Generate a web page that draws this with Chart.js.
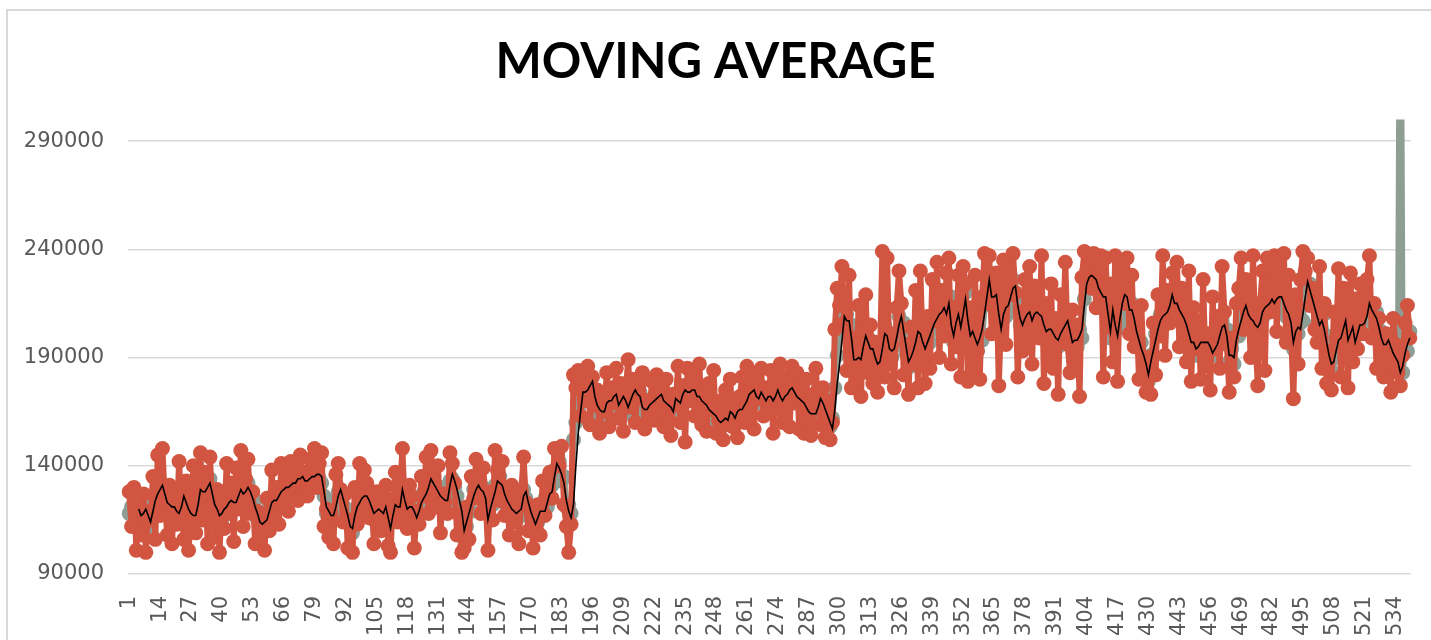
<!DOCTYPE html>
<html>
<head>
<meta charset="utf-8">
<script src="https://cdn.jsdelivr.net/npm/chart.js@4.4.0/dist/chart.umd.min.js"></script>
<style>
  html, body { margin: 0; padding: 0; background: #fff; overflow: hidden; }
  .frame { position: absolute; left: 6px; top: 9px; width: 1500px; height: 700px; border: 2px solid #d9d9d9; }
  .wrap { position: absolute; left: 0; top: 0; width: 1431px; height: 640px; }
</style>
</head>
<body>
<div class="frame"></div>
<div class="wrap"><canvas id="myChart"></canvas></div>
<script>
// values, in thousands
const orangeK = [
  128,112,130,101,121,108,127,100,119,115,
  135,106,145,117,148,124,108,131,104,126,
  113,142,120,106,133,101,118,140,109,124,
  146,115,137,104,144,121,107,129,100,123,
  111,141,118,132,105,139,120,147,112,134,
  143,118,128,104,119,106,115,101,125,110,
  138,117,130,113,141,122,136,119,142,128,
  139,124,145,131,137,126,143,133,148,130,
  141,146,112,120,107,118,104,136,141,129,
  114,127,102,115,100,130,113,141,119,138,
  132,116,124,104,128,118,110,127,131,103,
  100,124,137,114,128,148,120,111,131,126,
  102,119,113,135,126,144,118,147,133,121,
  140,109,127,123,118,146,141,132,108,117,
  100,102,121,106,135,125,143,130,118,139,
  126,101,128,115,147,138,124,142,117,129,
  108,131,114,126,104,128,144,123,110,119,
  102,115,122,108,133,117,128,137,125,148,
  147,140,149,122,112,100,113,182,176,184,
  163,179,170,186,159,181,168,175,155,172,
  165,183,158,176,169,185,162,178,156,174,
  189,167,180,160,177,171,183,157,170,164,
  179,161,182,166,175,158,180,169,154,173,
  168,186,160,177,151,185,170,182,163,176,
  187,159,173,156,178,166,184,155,161,170,
  152,175,164,180,158,168,153,172,181,160,
  186,165,178,157,183,171,185,163,176,168,
  184,155,179,166,187,160,174,181,158,186,
  169,183,157,175,155,180,162,154,173,185,
  167,159,176,153,170,152,160,203,222,214,
  232,206,184,228,176,199,180,214,172,203,
  219,183,205,178,197,174,190,239,181,236,
  187,201,176,213,230,215,182,196,173,204,
  187,221,176,230,194,178,209,185,226,207,
  234,190,221,200,229,236,187,213,195,228,
  181,232,224,179,213,184,228,193,180,218,
  238,215,237,201,226,229,177,208,235,196,
  231,219,238,220,181,211,193,226,198,232,
  187,223,212,199,237,178,215,190,224,185,
  208,173,219,201,234,196,183,212,188,205,
  172,227,239,230,236,222,238,213,229,237,
  181,236,204,224,188,237,179,226,233,215,
  236,201,228,195,211,180,214,186,174,190,
  173,206,182,219,200,237,191,221,206,229,
  212,234,195,222,203,188,230,179,213,194,
  207,180,226,186,201,175,218,194,209,185,
  232,211,196,174,199,181,215,222,236,203,
  226,218,190,237,200,177,215,230,184,236,
  211,224,237,202,233,221,238,197,228,203,
  171,219,187,226,239,230,236,214,222,203,
  197,232,185,215,178,193,175,211,199,231,
  181,222,206,176,229,188,217,194,224,201,
  213,226,237,199,215,185,208,193,181,201,
  188,174,208,196,183,177,191,206,214,199
];

const greyK = [
  118,121,116,119,122,114,120,123,115,112,
  121,126,124,132,128,125,120,124,118,123,
  116,121,124,128,120,118,115,119,121,126,
  131,125,130,128,134,124,120,117,119,115,
  122,119,126,121,125,120,129,127,131,125,
  132,126,122,124,115,116,110,117,113,122,
  120,127,122,129,126,131,128,133,129,135,
  130,136,132,137,131,135,132,138,133,137,
  134,132,126,118,122,114,119,124,128,126,
  122,118,114,115,109,120,118,126,122,128,
  124,121,124,115,121,118,122,116,124,113,
  114,119,125,118,124,126,121,123,118,124,
  117,114,122,120,128,124,133,131,135,128,
  126,130,122,127,121,133,134,130,126,121,
  116,113,112,121,119,129,126,134,127,130,
  122,118,123,122,131,130,135,128,125,121,
  124,118,121,115,122,117,129,125,121,117,
  114,118,114,121,117,125,121,130,131,138,
  139,142,133,135,121,122,118,152,160,166,
  172,171,177,173,180,176,170,171,163,168,
  162,171,167,173,169,175,165,172,169,173,
  164,172,170,177,171,174,164,169,163,170,
  166,172,168,175,170,174,166,171,164,168,
  173,167,172,170,177,171,176,172,178,169,
  175,167,172,165,169,162,167,160,164,158,
  163,159,164,162,167,160,168,164,169,166,
  172,168,176,172,175,169,176,170,173,168,
  175,169,174,172,177,170,175,171,178,173,
  176,170,174,168,172,165,168,162,166,161,
  169,168,172,164,167,158,162,176,191,205,
  212,203,210,200,205,186,192,186,193,190,
  203,194,198,190,196,184,191,197,205,197,
  198,190,197,196,209,205,206,192,191,186,
  196,190,205,198,200,191,200,197,206,203,
  212,206,214,209,215,207,218,197,209,206,
  213,201,220,204,203,198,203,193,202,198,
  214,215,229,214,221,216,214,200,214,209,
  217,212,226,219,217,205,209,204,213,207,
  211,206,214,207,212,202,205,200,206,199,
  202,195,204,199,208,204,205,194,201,195,
  203,199,217,221,230,224,230,222,229,217,
  222,214,214,199,215,202,204,205,218,216,
  221,209,215,205,205,195,197,190,190,179,
  191,190,201,200,210,206,213,208,217,216,
  218,212,215,207,211,202,204,194,200,191,
  198,194,200,194,200,192,195,191,199,197,
  207,202,203,188,194,187,201,200,210,208,
  217,207,211,204,208,201,209,208,216,211,
  218,214,218,212,220,215,221,209,215,203,
  194,205,201,206,207,221,222,224,214,216,
  206,208,202,210,200,194,184,191,190,201,
  196,206,204,201,198,207,194,204,202,208,
  203,212,212,215,207,211,201,202,193,199,
  195,198,189,193,187,420,183,195,193,202
];

const avgK = [
  null,null,null,null,120,117,118,120,117,114,
  119,124,127,129,131,127,123,122,121,121,
  119,118,121,126,123,120,118,117,117,122,
  129,128,128,130,132,127,122,120,117,118,
  120,121,123,124,123,123,126,129,127,128,
  130,128,125,121,118,114,113,114,115,119,
  123,124,124,126,128,129,130,130,131,132,
  132,134,134,135,133,133,134,135,135,136,
  136,135,128,121,119,117,117,121,126,129,
  125,121,117,112,111,117,121,123,125,126,
  126,124,121,118,119,120,119,118,121,116,
  111,117,122,121,121,129,124,120,121,121,
  119,116,119,123,125,127,130,134,132,130,
  128,126,125,124,124,131,136,133,129,124,
  119,110,114,118,122,126,129,131,129,128,
  125,115,120,124,128,133,132,131,127,124,
  122,120,119,118,119,120,126,128,123,119,
  116,113,116,119,119,119,123,127,128,135,
  141,139,136,132,124,119,116,122,140,155,
  165,174,174,175,177,179,172,168,166,165,
  165,169,170,170,172,173,168,170,172,170,
  167,170,173,175,173,172,167,166,166,168,
  169,170,171,172,173,170,169,168,167,165,
  171,170,169,173,175,174,174,175,175,172,
  172,170,169,168,166,165,164,163,161,160,
  161,162,161,165,164,162,165,166,166,168,
  170,173,174,175,172,171,174,172,170,172,
  172,170,172,175,172,170,172,173,175,176,
  174,172,171,170,169,167,165,164,164,164,
  167,171,169,166,163,160,157,166,178,187,
  198,209,207,207,199,189,189,190,189,195,
  200,197,194,194,190,187,188,194,201,200,
  194,193,194,199,205,209,202,195,188,190,
  193,197,202,201,197,194,197,200,203,206,
  208,210,211,213,210,215,205,200,206,210,
  204,210,217,207,200,202,199,196,199,203,
  210,218,226,218,218,219,210,203,210,213,
  214,218,222,223,214,208,205,208,210,211,
  207,210,211,210,209,205,202,203,203,201,
  199,198,201,203,205,207,202,197,198,198,
  200,203,214,224,227,228,227,226,222,220,
  218,218,210,202,212,205,200,208,215,219,
  218,212,212,208,202,198,194,191,187,182,
  188,193,198,203,207,209,210,211,214,219,
  215,215,212,210,208,205,201,197,197,194,
  195,197,197,197,197,195,192,194,196,200,
  204,205,200,191,191,190,198,203,207,211,
  214,210,208,207,205,204,206,211,213,214,
  215,217,215,217,218,218,215,212,210,206,
  197,202,204,203,210,218,225,221,217,213,
  209,205,207,203,197,191,187,188,193,198,
  199,203,207,198,201,204,197,201,205,205,
  206,209,215,212,210,208,204,199,196,196,
  198,195,192,190,188,183,186,192,196,199
];

const xTickLabels = ['1','14','27','40','53','66','79','92','105','118','131','144','157','170','183',
  '196','209','222','235','248','261','274','287','300','313','326','339','352','365','378','391',
  '404','417','430','443','456','469','482','495','508','521','534'];
const yTicks = [90000, 140000, 190000, 240000, 290000];

const categories = orangeK.map((_, i) => String(i + 1));
const toUnits = v => (v === null ? null : v * 1000);

const tickFont = { family: 'DejaVu Sans', size: 21 };
const clipBox = { left: 10, right: 10, top: 0, bottom: 10 };

function drawChart() {
    const ctx = document.getElementById('myChart');

    new Chart(ctx, {
        type: 'line',
        data: {
            labels: categories,
            datasets: [
                {
                    label: 'Moving average',
                    data: avgK.map(toUnits),
                    borderColor: '#000000',
                    borderWidth: 1.6,
                    pointRadius: 0,
                    tension: 0,
                    clip: clipBox,
                    order: 1
                },
                {
                    label: 'Series 2',
                    data: orangeK.map(toUnits),
                    borderColor: '#D15540',
                    backgroundColor: '#D15540',
                    borderWidth: 6,
                    borderJoinStyle: 'round',
                    borderCapStyle: 'round',
                    pointRadius: 7.5,
                    pointBorderWidth: 0,
                    pointBackgroundColor: '#D15540',
                    tension: 0,
                    clip: clipBox,
                    order: 2
                },
                {
                    label: 'Series 1',
                    data: greyK.map(toUnits),
                    borderColor: '#8E9E95',
                    backgroundColor: '#8E9E95',
                    borderWidth: 6,
                    borderJoinStyle: 'round',
                    borderCapStyle: 'butt',
                    pointRadius: 7.5,
                    pointBorderWidth: 0,
                    pointBackgroundColor: '#8E9E95',
                    tension: 0,
                    clip: clipBox,
                    order: 3
                }
            ]
        },
        options: {
            responsive: true,
            maintainAspectRatio: false,
            animation: false,
            events: [],
            layout: { padding: { left: 20, right: 20, top: 0, bottom: 0 } },
            plugins: {
                legend: { display: false },
                tooltip: { enabled: false },
                title: {
                    display: true,
                    text: 'MOVING AVERAGE',
                    color: '#000000',
                    font: { family: 'Lato', size: 49, weight: 'bold', lineHeight: 1.2 },
                    padding: { top: 33, bottom: 27.6 }
                }
            },
            scales: {
                x: {
                    offset: true,
                    grid: { display: false },
                    border: { display: false },
                    afterFit: (scale) => {
                        scale.height = 66;
                        scale.paddingLeft = 0;
                        scale.paddingRight = 0;
                    },
                    ticks: {
                        autoSkip: false,
                        minRotation: 90,
                        maxRotation: 90,
                        padding: 14,
                        color: '#595959',
                        font: tickFont,
                        callback: function (value, index) {
                            const lab = categories[index];
                            return xTickLabels.includes(lab) ? lab : '';
                        }
                    }
                },
                y: {
                    min: 90000,
                    max: 300000,
                    afterBuildTicks: (scale) => {
                        scale.ticks = yTicks.map(v => ({ value: v }));
                    },
                    afterFit: (scale) => {
                        scale.width = 108;
                        scale.paddingTop = 0;
                        scale.paddingBottom = 0;
                    },
                    grid: { color: '#d9d9d9', lineWidth: 1.5, drawTicks: false },
                    border: { display: false },
                    ticks: {
                        padding: 24,
                        color: '#595959',
                        font: tickFont,
                        callback: (value) => String(value)
                    }
                }
            }
        }
    });
}

Promise.all([
    document.fonts.load('bold 49px Lato'),
    document.fonts.load('21px "DejaVu Sans"')
]).then(drawChart, drawChart);
</script>
</body>
</html>
